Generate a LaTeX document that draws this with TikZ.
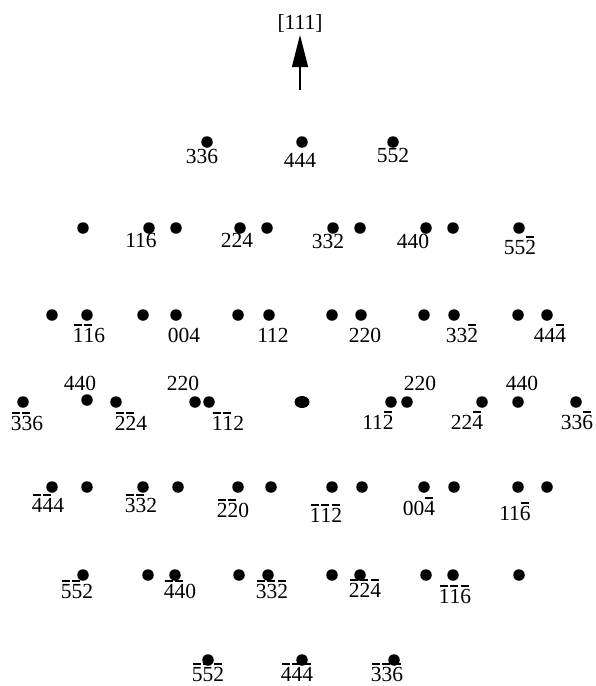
\documentclass[tikz,border=0pt]{standalone}
\usepackage{fontspec}
\setmainfont{Liberation Serif}
\usetikzlibrary{arrows.meta,shapes.geometric}
\newcommand\ob[1]{\leavevmode\rlap{\hspace{0.03em}\rule[0.76em]{0.38em}{1.6pt}}#1}
\begin{document}
\begin{tikzpicture}[x=1pt,y=-1pt,
  spot/.style={circle,fill=black,inner sep=0pt,minimum size=11.5pt},
  lab/.style={anchor=base,inner sep=0pt,font=\fontsize{21.5}{24}\selectfont}]
\useasboundingbox (0,0) rectangle (595,686);
% arrow
\coordinate (tail) at (300,90);
\coordinate (tip) at (300,35);
\node[lab] (dir) at (300,29) {[111]};
\draw[line width=1.4pt,-{Triangle[length=32pt,width=16pt]}] (tail) -- (tip);
% spots
\foreach \x [count=\i] in {207,302,393} \node[spot] (ra\i) at (\x,142) {};
\foreach \x [count=\i] in {83,149,176,240,267,333,360,426,453,519} \node[spot] (rb\i) at (\x,228) {};
\foreach \x [count=\i] in {52,87,143,176,238,269,332,361,424,454,518,547} \node[spot] (rc\i) at (\x,315) {};
\foreach \x [count=\i] in {23,116,195,209,391,407,482,518,576} \node[spot] (rd\i) at (\x,402) {};
\node[spot] (rd0) at (87,400) {};
\node[ellipse,fill=black,inner sep=0pt,minimum width=15pt,minimum height=12pt] (origin) at (302,402) {};
\foreach \x [count=\i] in {52,87,143,178,238,271,332,362,424,454,518,547} \node[spot] (re\i) at (\x,487) {};
\foreach \x [count=\i] in {83,148,175,239,268,332,360,426,453,519} \node[spot] (rf\i) at (\x,575) {};
\foreach \x [count=\i] in {208,302,394} \node[spot] (rg\i) at (\x,660) {};
% labels row 1
\node[lab] (la1) at (202,163) {336};
\node[lab] (la2) at (300,167) {444};
\node[lab] (la3) at (393,162) {552};
% row 2
\node[lab] (lb1) at (141,247) {116};
\node[lab] (lb2) at (237,247) {224};
\node[lab] (lb3) at (328,248) {332};
\node[lab] (lb4) at (413,248) {440};
\node[lab] (lb5) at (520,254) {55\ob{2}};
% row 3
\node[lab] (lc1) at (89,342) {\ob{1}\ob{1}6};
\node[lab] (lc2) at (184,342) {004};
\node[lab] (lc3) at (273,342) {112};
\node[lab] (lc4) at (365,342) {220};
\node[lab] (lc5) at (462,342) {33\ob{2}};
\node[lab] (lc6) at (550,342) {44\ob{4}};
% row 4
\node[lab] (ld1) at (80,390) {440};
\node[lab] (ld2) at (183,390) {220};
\node[lab] (ld3) at (420,390) {220};
\node[lab] (ld4) at (522,390) {440};
\node[lab] (ld5) at (27,430) {\ob{3}\ob{3}6};
\node[lab] (ld6) at (131,430) {\ob{2}\ob{2}4};
\node[lab] (ld7) at (228,430) {\ob{1}\ob{1}2};
\node[lab] (ld8) at (378,429) {11\ob{2}};
\node[lab] (ld9) at (467,429) {22\ob{4}};
\node[lab] (ld10) at (577,429) {33\ob{6}};
% row 5
\node[lab] (le1) at (48,512) {\ob{4}\ob{4}4};
\node[lab] (le2) at (141,512) {\ob{3}\ob{3}2};
\node[lab] (le3) at (233,517) {\ob{2}\ob{2}0};
\node[lab] (le4) at (326,522) {\ob{1}\ob{1}\ob{2}};
\node[lab] (le5) at (419,515) {00\ob{4}};
\node[lab] (le6) at (515,520) {11\ob{6}};
% row 6
\node[lab] (lf1) at (77,598) {\ob{5}\ob{5}2};
\node[lab] (lf2) at (180,598) {\ob{4}\ob{4}0};
\node[lab] (lf3) at (272,598) {\ob{3}\ob{3}\ob{2}};
\node[lab] (lf4) at (365,597) {\ob{2}\ob{2}\ob{4}};
\node[lab] (lf5) at (455,603) {\ob{1}\ob{1}\ob{6}};
% row 7
\node[lab] (lg1) at (208,681) {\ob{5}\ob{5}\ob{2}};
\node[lab] (lg2) at (297,681) {\ob{4}\ob{4}\ob{4}};
\node[lab] (lg3) at (387,681) {\ob{3}\ob{3}\ob{6}};
\end{tikzpicture}
\end{document}
